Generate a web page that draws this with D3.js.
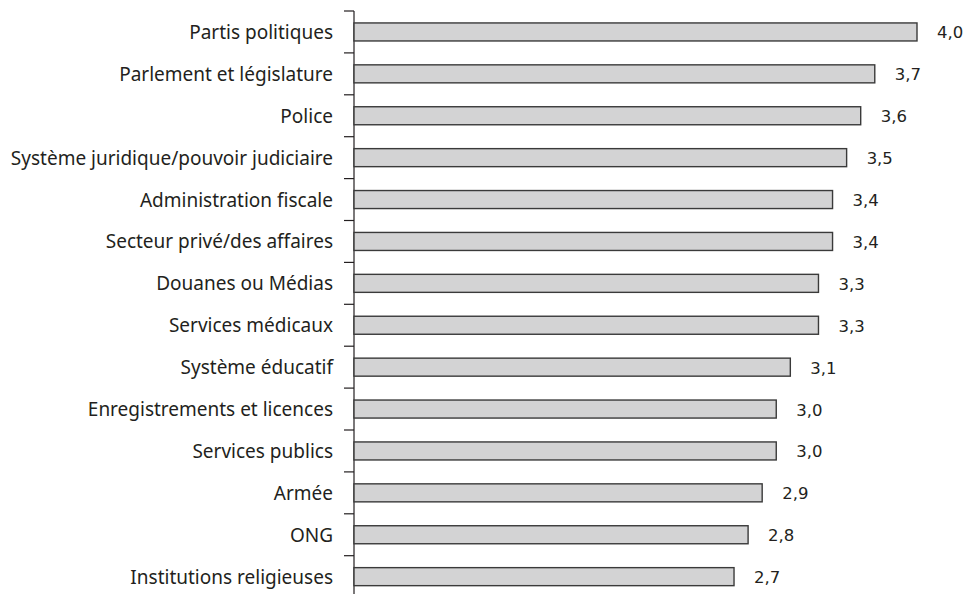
<!DOCTYPE html>
<html>
<head>
<meta charset="utf-8">
<script src="https://cdn.jsdelivr.net/npm/d3@7"></script>
<style>
  html, body { margin: 0; padding: 0; background: #fff; }
  svg { display: block; }
  text { fill: #231f20; }
  .cat { font-family: "Noto Sans", "Open Sans", sans-serif; }
  .val { font-family: "DejaVu Sans", Verdana, sans-serif; }
</style>
</head>
<body>
<svg id="chart" width="966" height="594"></svg>
<script>
// Institutions, top to bottom
const categories = [
  "Partis politiques",
  "Parlement et législature",
  "Police",
  "Système juridique/pouvoir judiciaire",
  "Administration fiscale",
  "Secteur privé/des affaires",
  "Douanes ou Médias",
  "Services médicaux",
  "Système éducatif",
  "Enregistrements et licences",
  "Services publics",
  "Armée",
  "ONG",
  "Institutions religieuses"
];
const values = [4.0, 3.7, 3.6, 3.5, 3.4, 3.4, 3.3, 3.3, 3.1, 3.0, 3.0, 2.9, 2.8, 2.7];
const valueLabels = ["4,0", "3,7", "3,6", "3,5", "3,4", "3,4", "3,3", "3,3", "3,1", "3,0", "3,0", "2,9", "2,8", "2,7"];

const svg = d3.select("#chart");
const axisX = 354;

const x = d3.scaleLinear().domain([0, 4]).range([axisX, 917]);
const y = d3.scaleBand()
  .domain(categories)
  .range([11, 11 + 41.9 * categories.length])
  .paddingInner(0.57)
  .paddingOuter(0.285);

// Category axis with ticks at band boundaries
const axisG = svg.append("g");
const step = y.step();
const yTop = y.range()[0];
axisG.append("line")
  .attr("x1", axisX).attr("x2", axisX)
  .attr("y1", yTop).attr("y2", y.range()[1])
  .attr("stroke", "#231f20").attr("stroke-width", 1.2);
d3.range(categories.length + 1).forEach(i => {
  axisG.append("line")
    .attr("x1", axisX - 10).attr("x2", axisX)
    .attr("y1", yTop + i * step).attr("y2", yTop + i * step)
    .attr("stroke", "#231f20").attr("stroke-width", 1.2);
});

// Bars
svg.append("g").selectAll("rect")
  .data(categories)
  .join("rect")
  .attr("x", x(0))
  .attr("y", d => y(d))
  .attr("width", (d, i) => x(values[i]) - x(0))
  .attr("height", y.bandwidth())
  .attr("fill", "#d3d3d4")
  .attr("stroke", "#3a3a3a")
  .attr("stroke-width", 1.4);

// Category labels
svg.append("g").selectAll("text")
  .data(categories)
  .join("text")
  .attr("class", "cat")
  .attr("x", 333)
  .attr("y", d => y(d) + y.bandwidth() / 2 + 7)
  .attr("text-anchor", "end")
  .attr("font-size", 19)
  .text(d => d);

// Value labels
svg.append("g").selectAll("text")
  .data(categories)
  .join("text")
  .attr("class", "val")
  .attr("x", (d, i) => x(values[i]) + 20)
  .attr("y", d => y(d) + y.bandwidth() / 2 + 6.5)
  .attr("font-size", 16.5)
  .text((d, i) => valueLabels[i]);
</script>
</body>
</html>
